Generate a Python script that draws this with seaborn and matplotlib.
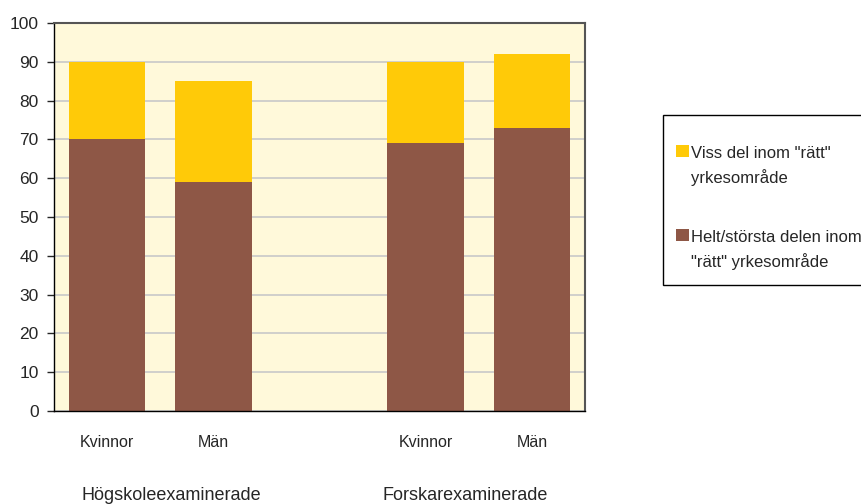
import pandas as pd
import matplotlib.pyplot as plt
import seaborn as sns
from matplotlib.patches import Rectangle

sns.set_style("white")
plt.rcParams["font.family"] = ["Liberation Sans", "DejaVu Sans"]

# data
groups = ["Högskoleexaminerade", "Högskoleexaminerade", "Forskarexaminerade", "Forskarexaminerade"]
sexes = ["Kvinnor", "Män", "Kvinnor", "Män"]
helt = [70, 59, 69, 73]      # Helt/största delen inom "rätt" yrkesområde
viss = [20, 26, 21, 19]      # Viss del inom "rätt" yrkesområde
group_labels = ["Högskoleexaminerade", "Forskarexaminerade"]
legend_labels = ['Viss del inom "rätt"\nyrkesområde', 'Helt/största delen inom\n"rätt" yrkesområde']

df = pd.DataFrame({"group": groups, "sex": sexes, "helt": helt, "viss": viss})
df["key"] = df["group"].str[:1] + "-" + df["sex"]
df["total"] = df["helt"] + df["viss"]
order = [df["key"][0], df["key"][1], "gap", df["key"][2], df["key"][3]]

yellow = "#FFCA08"
brown = "#8E5746"
W, H = 862, 504

fig = plt.figure(figsize=(8.62, 5.04), dpi=100)
ax = fig.add_axes([54 / W, 1 - 411 / H, 531 / W, 388 / H])
ax.set_facecolor("#FFF9DA")

sns.barplot(data=df, x="key", y="total", order=order, color=yellow, width=0.72,
            saturation=1, linewidth=0, ax=ax, zorder=2)
sns.barplot(data=df, x="key", y="helt", order=order, color=brown, width=0.72,
            saturation=1, linewidth=0, ax=ax, zorder=2)

ax.set_ylim(0, 100)
ax.set_xlim(-0.5, 4.5)
ax.set_yticks(range(0, 101, 10))
ax.yaxis.grid(True, color="#C8C8C8", linewidth=1.2, zorder=0)
ax.set_axisbelow(True)

ax.set_xticks(range(len(order)))
ax.set_xticklabels(["Kvinnor", "Män", "", "Kvinnor", "Män"], fontsize=11.5)
ax.tick_params(axis="x", length=0, pad=17)
ax.tick_params(axis="y", labelsize=12.5, length=5, width=1, direction="out", left=True, pad=6)
ax.set_xlabel("")
ax.set_ylabel("")

for side in ["left", "bottom"]:
    ax.spines[side].set_color("black")
    ax.spines[side].set_linewidth(1)
for side in ["top", "right"]:
    ax.spines[side].set_color("#555555")
    ax.spines[side].set_linewidth(1.5)

fig.text(171 / W, 1 - 495 / H, group_labels[0], ha="center", va="center", fontsize=13)
fig.text(465 / W, 1 - 495 / H, group_labels[1], ha="center", va="center", fontsize=13)

# legend box, entries aligned to first line like the original
fig.add_artist(Rectangle((663 / W, 1 - 285 / H), 205 / W, 170 / H, transform=fig.transFigure,
                         facecolor="white", edgecolor="black", linewidth=1))
for label, color, base in zip(legend_labels, [yellow, brown], [158, 242]):
    first, second = label.split("\n")
    fig.add_artist(Rectangle((676 / W, 1 - (base - 1) / H), 13 / W, 12 / H,
                             transform=fig.transFigure, facecolor=color, edgecolor="none"))
    fig.text(691 / W, 1 - base / H, first, ha="left", va="baseline", fontsize=12)
    fig.text(691 / W, 1 - (base + 25) / H, second, ha="left", va="baseline", fontsize=12)

fig.savefig("out.png", dpi=100)
